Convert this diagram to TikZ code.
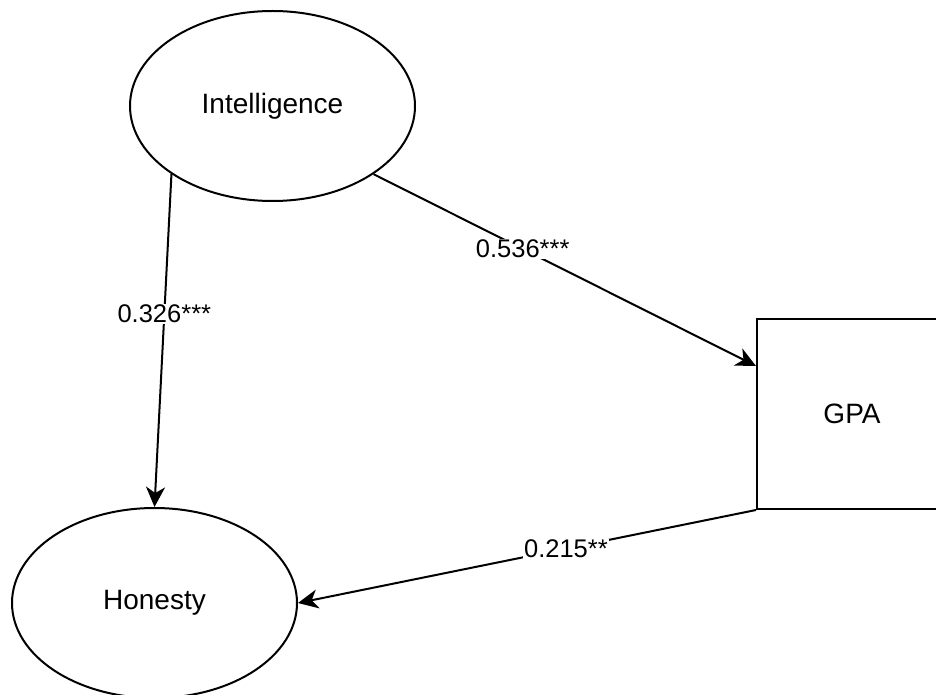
\documentclass[tikz,border=0pt]{standalone}
\usepackage{fontspec}
\setmainfont{Liberation Sans}
\usetikzlibrary{shapes.geometric,arrows.meta,calc}
\begin{document}
\begin{tikzpicture}[x=1pt,y=-1pt,
  latent/.style={ellipse,draw,line width=2pt,minimum width=285pt,minimum height=190pt,inner sep=0pt,font=\fontsize{28}{32}\selectfont},
  observed/.style={rectangle,draw,line width=2pt,minimum width=190pt,minimum height=190pt,inner sep=0pt,font=\fontsize{28}{32}\selectfont},
  path/.style={line width=2pt,-{Stealth[length=20pt,width=19pt,inset=6pt]}},
  coef/.style={fill=white,inner sep=1pt,font=\fontsize{25.5}{30}\selectfont}]
\useasboundingbox (0,0) rectangle (936,695);
\node[latent] (I) at (272.5,106) {Intelligence};
\node[latent] (H) at (154.5,603) {Honesty};
\node[observed] (G) at (852,414) {GPA};
\draw[path] (I.214.5) -- node[coef,pos=0.42] {0.326***} (H.north);
\draw[path] (I.326.8) -- node[coef,pos=0.39] {0.536***} ($(G.north west)!0.25!(G.south west)$);
\draw[path] (G.south west) -- node[coef,pos=0.415] {0.215**} (H.east);
\end{tikzpicture}
\end{document}
